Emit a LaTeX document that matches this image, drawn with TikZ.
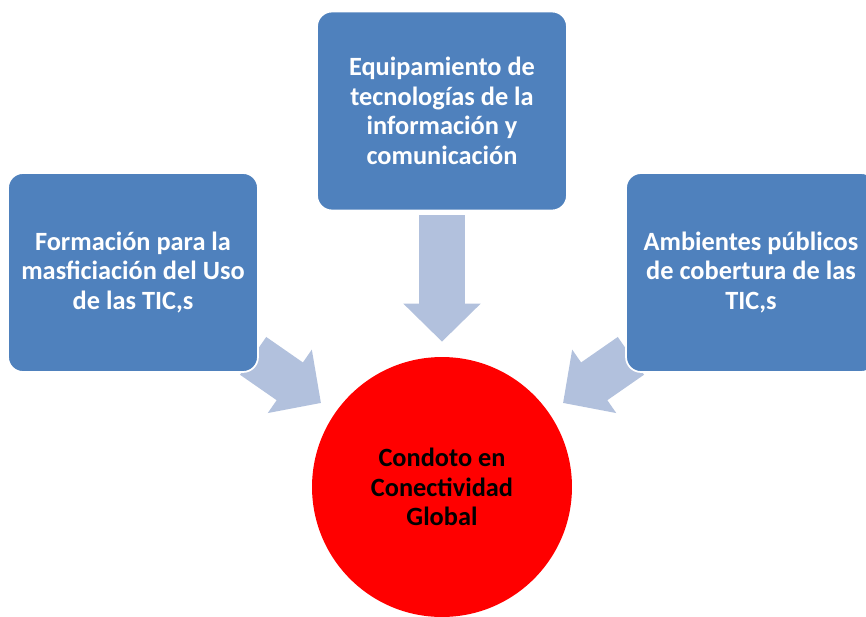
\documentclass[tikz,border=0pt]{standalone}
\usepackage{fontspec}
\setmainfont{Carlito}
\usetikzlibrary{arrows.meta, backgrounds}
\definecolor{boxblue}{HTML}{4F81BD}
\definecolor{arrblue}{HTML}{B2C1DD}

\begin{document}
\begin{tikzpicture}[
    x=0.02cm, y=-0.02cm,
    b/.style={rectangle, draw=white, line width=1pt, rounded corners=0.3cm, fill=boxblue, minimum width=5cm, minimum height=3.98cm, text=white, font=\fontsize{15}{16.8}\selectfont\bfseries, align=center},
    c/.style={circle, fill=red, minimum size=5.2cm, font=\fontsize{15}{16.8}\selectfont\bfseries, align=center},
    a/.style={draw=arrblue, line width=0.92cm, -{Triangle[width=1.5cm, length=0.76cm]}},
]
\useasboundingbox (0,0) rectangle (866,616);

% Boxes
\node[b] (form) at (133,272.5) {Formación para la\\masficiación del Uso\\de las TIC,s};
\node[b] (equip) at (442,111) {Equipamiento de\\tecnologías de la\\información y\\comunicación};
\node[b] (amb) at (751,272.5) {Ambientes públicos\\de cobertura de las\\TIC,s};

% Centre
\node[c] (cond) at (442,487) {Condoto en\\Conectividad\\Global};

% Arrows
\begin{scope}[on background layer]
    \draw[a, shorten <=-0.14cm, shorten >=0.34cm] (form) -- (cond);
    \draw[a, shorten <=0.08cm, shorten >=0.3cm] (equip) -- (cond);
    \draw[a, shorten <=-0.14cm, shorten >=0.34cm] (amb) -- (cond);
\end{scope}
\end{tikzpicture}
\end{document}
